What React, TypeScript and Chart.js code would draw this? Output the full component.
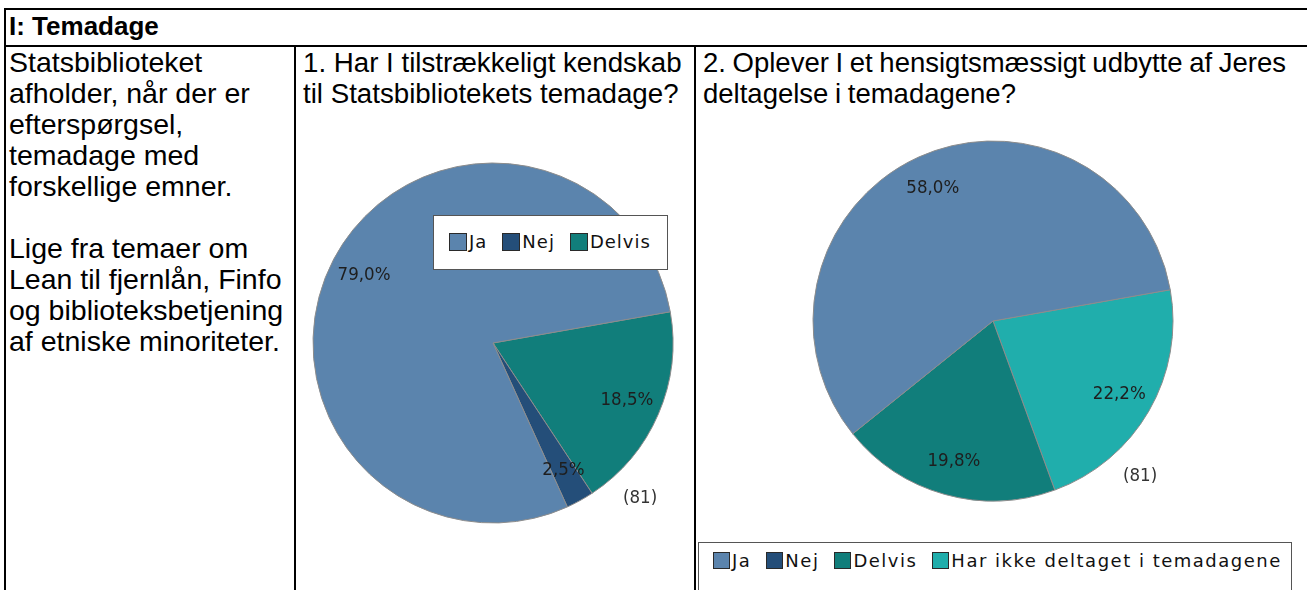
import React, { useEffect, useRef } from "react";
import { Chart, registerables } from "chart.js";

Chart.register(...registerables);

// ---------- data ----------
const q1Categories = ["Ja", "Nej", "Delvis"];
const q1Values = [79.0, 2.5, 18.5];
const q1Colors = ["#5b84ad", "#244e79", "#117e7b"];

const q2Categories = ["Ja", "Nej", "Delvis", "Har ikke deltaget i temadagene"];
const q2Values = [58.0, 0, 19.8, 22.2];
const q2Colors = ["#5b84ad", "#244e79", "#117e7b", "#20aeac"];

const respondents = 81;

const sectionTitle = "I: Temadage";
const introLines = [
  "Statsbiblioteket",
  "afholder, når der er",
  "efterspørgsel,",
  "temadage med",
  "forskellige emner.",
  "",
  "Lige fra temaer om",
  "Lean til fjernlån, Finfo",
  "og biblioteksbetjening",
  "af etniske minoriteter.",
];
const q1TitleLines = ["1. Har I tilstrækkeligt kendskab", "til Statsbibliotekets temadage?"];
const q2TitleLines = ["2. Oplever I et hensigtsmæssigt udbytte af Jeres", "deltagelse i temadagene?"];

// ---------- helpers ----------
const fmtPct = (v: number) => v.toFixed(1).replace(".", ",") + "%";

function drawNarrowText(ctx: CanvasRenderingContext2D, text: string, x: number, y: number) {
  ctx.save();
  ctx.translate(x, y);
  ctx.scale(0.9, 1);
  ctx.fillText(text, 0, 0);
  ctx.restore();
}

const labelPlugin = {
  id: "pieLabels",
  afterDatasetsDraw(chart: any) {
    const ctx = chart.ctx as CanvasRenderingContext2D;
    const meta = chart.getDatasetMeta(0);
    const values = chart.data.datasets[0].data as number[];
    ctx.save();
    ctx.font = '18.5px "DejaVu Sans"';
    ctx.fillStyle = "#1e1e1e";
    ctx.textAlign = "center";
    ctx.textBaseline = "middle";
    let cx = 0,
      cy = 0,
      R = 0;
    meta.data.forEach((arc: any, i: number) => {
      const p = arc.getProps(["x", "y", "startAngle", "endAngle", "outerRadius"], true);
      cx = p.x;
      cy = p.y;
      R = p.outerRadius;
      const v = values[i];
      if (!v) return;
      const mid = (p.startAngle + p.endAngle) / 2;
      drawNarrowText(ctx, fmtPct(v), p.x + Math.cos(mid) * R * 0.81, p.y + Math.sin(mid) * R * 0.81);
    });
    ctx.fillStyle = "#333";
    drawNarrowText(ctx, `(${respondents})`, cx + R * 0.817, cy + R * 0.86);
    ctx.restore();
  },
};

function PieChart(props: {
  categories: string[];
  values: number[];
  colors: string[];
  cx: number;
  cy: number;
  radius: number;
}) {
  const ref = useRef<HTMLCanvasElement | null>(null);
  const { categories, values, colors, cx, cy, radius } = props;
  useEffect(() => {
    if (!ref.current) return;
    // slices run anticlockwise in the source: reverse the order for Chart.js (clockwise)
    const chart = new Chart(ref.current, {
      type: "pie",
      data: {
        labels: [...categories].reverse(),
        datasets: [
          {
            data: [...values].reverse(),
            backgroundColor: [...colors].reverse(),
            borderColor: "#8c8c8c",
            borderWidth: 1,
          },
        ],
      },
      options: {
        animation: false,
        responsive: true,
        maintainAspectRatio: false,
        rotation: 80,
        radius: radius,
        events: [],
        layout: { padding: 0 },
        plugins: { legend: { display: false }, tooltip: { enabled: false } },
      } as any,
      plugins: [labelPlugin],
    });
    return () => chart.destroy();
  }, []);
  const size = radius * 2 + 40;
  return (
    <div
      style={{
        position: "absolute",
        left: cx - size / 2,
        top: cy - size / 2,
        width: size,
        height: size,
      }}
    >
      <canvas ref={ref} />
    </div>
  );
}

function Legend(props: {
  categories: string[];
  colors: string[];
  left: number;
  top: number;
  width: number;
  height: number;
  padLeft: number;
  padTop: number;
  square: number;
  spacing: number;
}) {
  const { categories, colors, left, top, width, height, padLeft, padTop, square, spacing } = props;
  return (
    <div
      style={{
        position: "absolute",
        left,
        top,
        width,
        height,
        boxSizing: "border-box",
        border: "1px solid #555",
        background: "#fff",
        display: "flex",
        alignItems: "flex-start",
        paddingLeft: padLeft,
        paddingTop: padTop,
        fontFamily: '"DejaVu Sans", sans-serif',
        fontSize: 18,
        letterSpacing: spacing,
        color: "#111",
        whiteSpace: "pre",
        zIndex: 2,
      }}
    >
      {categories.map((c, i) => (
        <div key={c} style={{ display: "flex", alignItems: "center", marginRight: 15, height: square }}>
          <div
            style={{
              width: square,
              height: square,
              boxSizing: "border-box",
              border: "1px solid #2a2a2a",
              background: colors[i],
              marginRight: 2,
            }}
          />
          <span style={{ lineHeight: square + "px" }}>{c}</span>
        </div>
      ))}
    </div>
  );
}

const line = (left: number, top: number, width: number, height: number) => (
  <div style={{ position: "absolute", left, top, width, height, background: "#000" }} />
);

export default function App() {
  const textStyle: React.CSSProperties = {
    position: "absolute",
    fontSize: 28,
    lineHeight: "31px",
    whiteSpace: "pre",
    color: "#000",
  };
  return (
    <div
      style={{
        position: "fixed",
        left: 0,
        top: 0,
        width: 1307,
        height: 590,
        overflow: "hidden",
        background: "#fff",
        fontFamily: '"Liberation Sans", Arial, sans-serif',
      }}
    >
      {line(4, 8, 1303, 2)}
      {line(4, 45, 1303, 2)}
      {line(4, 8, 2, 582)}
      {line(294, 45, 2, 545)}
      {line(694, 45, 2, 545)}

      <div style={{ ...textStyle, left: 9, top: 11, fontSize: 26, lineHeight: "30px", fontWeight: "bold" }}>
        {sectionTitle}
      </div>
      <div style={{ ...textStyle, left: 9, top: 47, fontSize: 28.5 }}>{introLines.join("\n")}</div>
      <div style={{ ...textStyle, left: 303, top: 47, fontSize: 27.7 }}>{q1TitleLines.join("\n")}</div>
      <div style={{ ...textStyle, left: 703, top: 47, fontSize: 27.5, wordSpacing: -1 }}>
        {q2TitleLines.join("\n")}
      </div>

      <PieChart categories={q1Categories} values={q1Values} colors={q1Colors} cx={493} cy={343} radius={180} />
      <PieChart categories={q2Categories} values={q2Values} colors={q2Colors} cx={993} cy={321} radius={180} />

      <Legend
        categories={q1Categories}
        colors={q1Colors}
        left={433}
        top={215}
        width={235}
        height={55}
        padLeft={15}
        padTop={17}
        square={18}
        spacing={1}
      />
      <Legend
        categories={q2Categories}
        colors={q2Colors}
        left={698}
        top={542}
        width={594}
        height={60}
        padLeft={14}
        padTop={9}
        square={17}
        spacing={1.5}
      />
    </div>
  );
}
